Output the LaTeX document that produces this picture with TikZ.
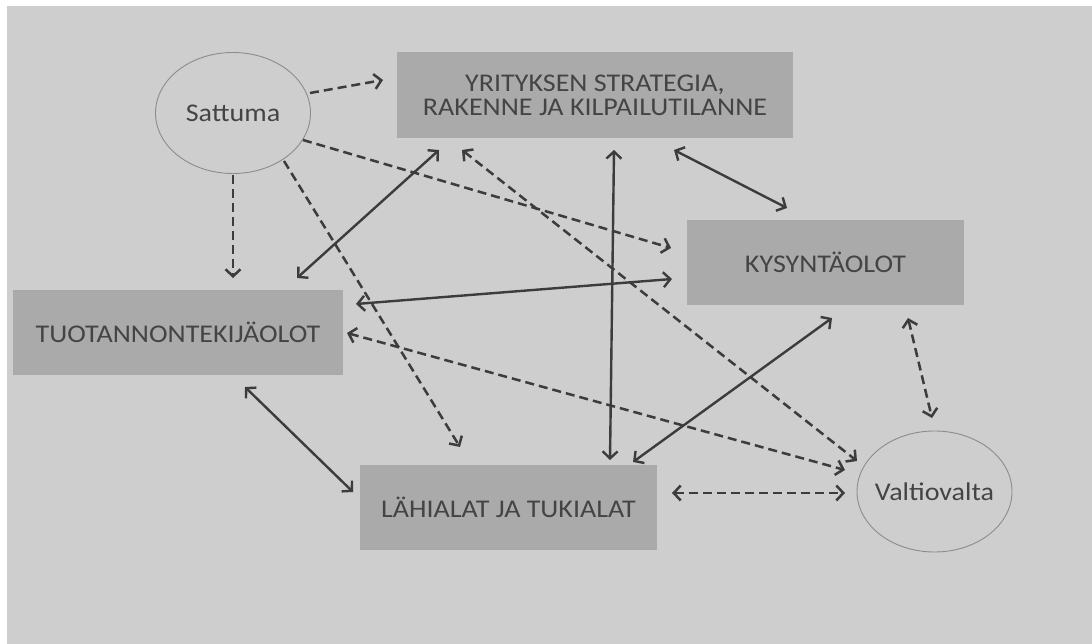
\documentclass[tikz,border=0pt]{standalone}
\usepackage{fontspec}
\setmainfont{Carlito}[FakeStretch=1.1]
\usetikzlibrary{positioning}
\usetikzlibrary{arrows.meta,shapes.geometric}
\usetikzlibrary{calc}
\definecolor{bggray}{HTML}{CECECE}
\definecolor{boxgray}{HTML}{AAAAAA}
\definecolor{txtgray}{HTML}{444444}
\definecolor{arrgray}{HTML}{3C3C3C}
\tikzstyle{factor}=[rectangle,fill=boxgray,text=txtgray,align=center,inner sep=0pt,font=\fontsize{25.5}{24}\selectfont]
\tikzstyle{outside}=[ellipse,draw=black!45,line width=0.9pt,text=txtgray,minimum width=155pt,minimum height=121pt,inner xsep=-30pt,inner ysep=0pt,font=\fontsize{25.5}{24}\selectfont]
\tikzstyle{link} = [draw,arrgray,line width=2.4pt,{Straight Barb[length=7pt,width=15pt]}-{Straight Barb[length=7pt,width=15pt]}]
\tikzstyle{chance} = [draw,arrgray,line width=2.5pt,dash pattern=on 9pt off 5pt,-{Straight Barb[length=7pt,width=15pt]}]
\tikzstyle{dashedlink} = [chance,{Straight Barb[length=7pt,width=15pt]}-{Straight Barb[length=7pt,width=15pt]}]

\begin{document}
\begin{tikzpicture}[x=1pt,y=-1pt]
  \useasboundingbox (0,0) rectangle (1092,644);
  \fill[white] (0,0) rectangle (1092,644);
  \fill[bggray] (7,6) rectangle (1092,644);

  \node[factor,minimum width=396pt,minimum height=86pt] (strat) at (595,95) {YRITYKSEN STRATEGIA,\\RAKENNE JA KILPAILUTILANNE};
  \node[factor,minimum width=277pt,minimum height=85pt] (kys) at (825.5,262.5) {KYSYNTÄOLOT};
  \node[factor,minimum width=330pt,minimum height=85pt] (tuo) at (178,332.5) {TUOTANNONTEKIJÄOLOT};
  \node[factor,minimum width=297pt,minimum height=85pt] (lah) at (508.5,507.5) {LÄHIALAT JA TUKIALAT};

  \foreach \pos/\name/\label in {{(233,113)/sat/Sattuma}, {(934.5,491.5)/val/Valtiovalta}}
        \node[outside] (\name) at \pos {\label};

  % chance acts on the four factors
  \foreach \a/\ax/\ay/\b/\bx/\by in {sat/77/-20/strat/-212/-15, sat/70/27/kys/-154.5/-14.5, sat/0/62/tuo/55/-54.5, sat/51/48/lah/-48.5/-60.5}
          \path[chance] ($(\a)+(\ax,\ay)$) -- ($(\b)+(\bx,\by)$);

  % the diamond itself
  \foreach \a/\ax/\ay/\b/\bx/\by in {tuo/119/-54.5/strat/-156/55, tuo/178/-28.5/kys/-153.5/16.5, strat/19/55/lah/101.5/-47.5, strat/79/55/kys/-38.5/-54.5, kys/6.5/55.5/lah/124.5/-45.5, tuo/67/54.5/lah/-155.5/-15.5}
          \path[link] ($(\a)+(\ax,\ay)$) -- ($(\b)+(\bx,\by)$);

  % government
  \foreach \a/\ax/\ay/\b/\bx/\by in {tuo/169/0.5/val/-89.5/-21.5, strat/-133/55/val/-77.5/-30.5, kys/82.5/55.5/val/-2.5/-73.5, lah/163.5/-14.5/val/-89.5/1.5}
          \path[dashedlink] ($(\a)+(\ax,\ay)$) -- ($(\b)+(\bx,\by)$);
\end{tikzpicture}
\end{document}
